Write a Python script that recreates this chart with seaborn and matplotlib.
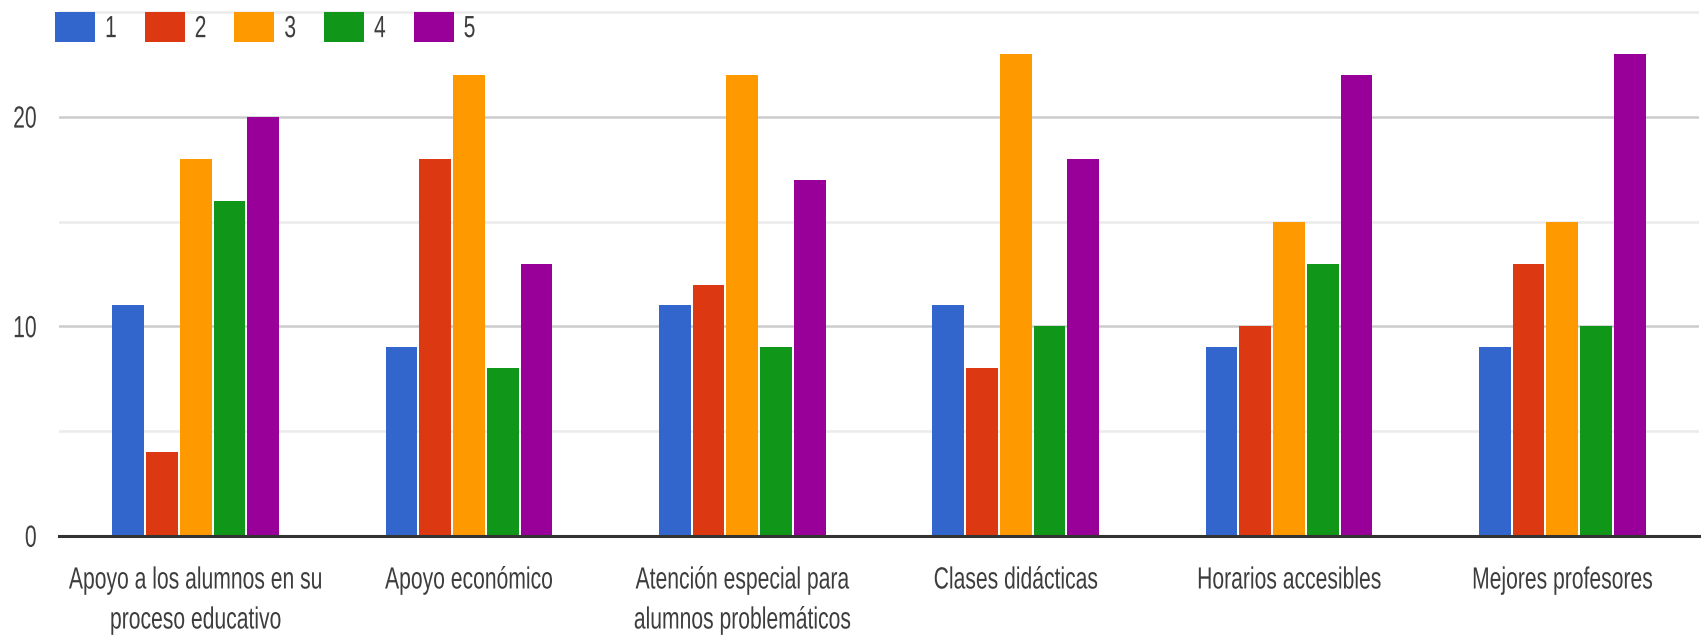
import matplotlib
matplotlib.use("Agg")
import matplotlib.pyplot as plt
import numpy as np
import pandas as pd
import seaborn as sns
from matplotlib.patheffects import AbstractPathEffect
from matplotlib.transforms import Affine2D
from matplotlib.text import Text

# Survey results: how many people gave each score (1-5) to each aspect
categories = [
    "Apoyo a los alumnos en su\nproceso educativo",
    "Apoyo económico",
    "Atención especial para\nalumnos problemáticos",
    "Clases didácticas",
    "Horarios accesibles",
    "Mejores profesores",
]
scores = ["1", "2", "3", "4", "5"]
score_1 = [11, 9, 11, 11, 9, 9]
score_2 = [4, 18, 12, 8, 10, 13]
score_3 = [18, 22, 22, 23, 15, 15]
score_4 = [16, 8, 9, 10, 13, 10]
score_5 = [20, 13, 17, 18, 22, 23]
colors = ["#3366cc", "#dc3912", "#ff9900", "#109618", "#990099"]

series = [score_1, score_2, score_3, score_4, score_5]
df = pd.DataFrame(
    [(cat, s, v) for s, vals in zip(scores, series) for cat, v in zip(categories, vals)],
    columns=["aspecto", "puntuacion", "respuestas"],
)


class Tall(AbstractPathEffect):
    """Draw text glyphs stretched vertically (a tall, condensed look)."""

    def __init__(self, sy, anchor="baseline"):
        super().__init__()
        self.sy = sy
        self.anchor = anchor

    def draw_path(self, renderer, gc, tpath, affine, rgbFace=None):
        if self.anchor == "center":
            ext = tpath.get_extents(affine)
            y0 = 0.5 * (ext.y0 + ext.y1)
        else:
            y0 = affine.transform((0, 0))[1]
        t = affine + Affine2D().translate(0, -y0).scale(1, self.sy).translate(0, y0)
        renderer.draw_path(gc, tpath, t, rgbFace)


sns.set_theme(style="white")
plt.rcParams["font.family"] = ["Liberation Sans", "DejaVu Sans"]
text_color = "#3d3d3d"
fs = 15.2
stretch = 1.45

W, H = 1707, 643
fig = plt.figure(figsize=(W / 100, H / 100), dpi=100)
fig.patch.set_facecolor("white")
ax = fig.add_axes([59 / W, (643 - 536) / H, 1640 / W, 525 / H])

sns.barplot(
    data=df, x="aspecto", y="respuestas", hue="puntuacion",
    hue_order=scores, order=categories, palette=colors,
    saturation=1, width=0.618, gap=0.06, edgecolor="none", ax=ax,
)

ax.set_xlim(-0.5, len(categories) - 0.5)
ax.set_ylim(0, 25.05)
ax.set_yticks([0, 10, 20])
ax.set_yticks([5, 15, 25], minor=True)
ax.set_axisbelow(True)
ax.grid(axis="y", which="major", color="#cccccc", linewidth=1.8)
ax.grid(axis="y", which="minor", color="#ebebeb", linewidth=1.8)
ax.grid(axis="x", visible=False)
for side in ["left", "right", "top"]:
    ax.spines[side].set_visible(False)
ax.spines["bottom"].set_color("#333333")
ax.spines["bottom"].set_linewidth(2.2)
ax.tick_params(axis="both", which="both", length=0, labelsize=fs, labelcolor=text_color)
ax.tick_params(axis="y", pad=16)
ax.tick_params(axis="x", pad=27)
for lbl in ax.get_xticklabels():
    lbl.set_linespacing(2.4)
ax.set_xlabel("")
ax.set_ylabel("")

handles, labels = ax.get_legend_handles_labels()
ax.legend(
    handles, labels, loc="upper left", bbox_to_anchor=(55 / W, 1 - 12 / H),
    bbox_transform=fig.transFigure, ncol=5, frameon=False, fontsize=fs,
    handlelength=1.9, handleheight=1.82, handletextpad=0.47, columnspacing=1.32,
    borderpad=0, borderaxespad=0, labelcolor=text_color,
)

fig.canvas.draw()
for t in fig.findobj(Text):
    if t.get_text():
        anchor = "baseline" if t in ax.get_xticklabels() else "center"
        t.set_path_effects([Tall(stretch, anchor)])

fig.savefig("out.png", dpi=100, facecolor="white")
